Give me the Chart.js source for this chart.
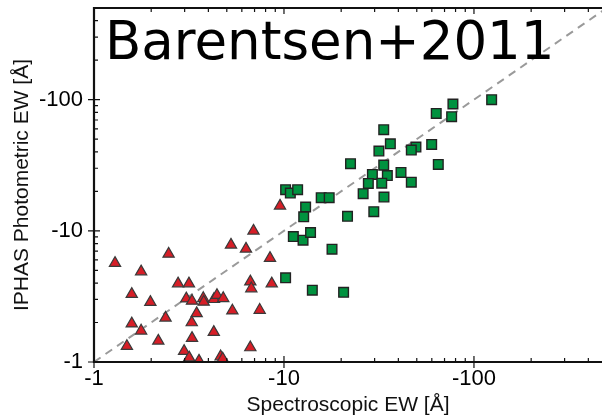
<!DOCTYPE html>
<html>
<head>
<meta charset="utf-8">
<script src="https://cdn.jsdelivr.net/npm/chart.js@4/dist/chart.umd.min.js"></script>
<style>
  html, body { margin: 0; padding: 0; background: #fff; }
  #wrap { width: 602px; height: 420px; }
</style>
</head>
<body>
<div id="wrap"><canvas id="chart-ew"></canvas></div>
<script>
// Spectroscopic EW vs IPHAS photometric EW (magnitudes, plotted on log axes)
const triangleX = [6.91, 5.26, 6.31, 2.47, 1.29, 8.44, 1.77, 2.77, 3.16, 6.65,
  6.73, 8.62, 1.58, 1.98, 3.06, 3.28, 3.76, 3.78, 4.28, 4.44,
  4.79, 5.35, 7.45, 3.47, 2.38, 3.27, 1.58, 1.77, 4.27, 2.18,
  3.28, 1.49, 6.65, 2.98, 3.17, 3.57, 4.64, 4.76, 9.53];
const triangleY = [10.0, 7.82, 7.29, 6.67, 5.67, 6.19, 4.89, 3.96, 3.96, 4.10,
  3.63, 3.96, 3.29, 2.86, 3.04, 2.92, 3.06, 2.87, 3.01, 3.23,
  3.06, 2.46, 2.49, 2.35, 2.17, 2.00, 1.96, 1.73, 1.69, 1.45,
  1.52, 1.32, 1.29, 1.21, 1.08, 1.02, 1.10, 1.06, 15.5];

const squareX = [123.9, 77.5, 63.3, 76.3, 33.5, 36.3, 59.9, 49.5, 46.8, 31.6,
  22.4, 33.5, 64.9, 41.3, 29.2, 35.0, 27.8, 32.7, 46.8, 10.2,
  10.8, 11.8, 15.7, 17.3, 26.1, 33.6, 13.0, 12.7, 21.6, 29.7,
  11.2, 12.6, 13.8, 17.9, 10.2, 14.1, 20.6];
const squareY = [100, 92.7, 78.6, 74.2, 59.0, 46.1, 45.6, 43.5, 41.3, 40.6,
  32.5, 31.7, 32.1, 27.9, 26.9, 26.4, 23.0, 23.1, 23.5, 20.6,
  19.4, 20.6, 17.9, 17.9, 19.2, 18.1, 15.2, 12.8, 12.9, 14.0,
  9.05, 8.49, 9.71, 7.25, 4.38, 3.53, 3.40];

// one-to-one line
const oneToOne = [1, 500];

const xRange = [1, 472];
const yRange = [1, 500];
const majorTicks = [1, 10, 100];

function toPoints(xs, ys) {
  return xs.map((x, i) => ({ x: x, y: ys[i] }));
}

const tickFont = { family: "Liberation Sans", size: 22 };
const titleFont = { family: "Liberation Sans", size: 21 };

function tickLabel(value) {
  return majorTicks.includes(value) ? "-" + value : "";
}

// the axes are sized by hand, so drop the label overhang padding
function noOverhang(scale) {
  scale.paddingTop = 0;
  scale.paddingBottom = 0;
  scale.paddingLeft = 0;
  scale.paddingRight = 0;
}

// frame, inward tick marks and the corner label
const framePlugin = {
  id: "frame",
  afterDraw(chart) {
    const { ctx, chartArea: a, scales } = chart;
    ctx.save();
    ctx.strokeStyle = "#111";
    ctx.lineWidth = 1.2;
    ctx.beginPath();
    for (let e = 0; e < 3; e++) {
      for (let d = 1; d < 10; d++) {
        const v = d * Math.pow(10, e);
        const len = d === 1 ? 6 : 4;
        if (v <= xRange[1]) {
          const px = scales.x.getPixelForValue(v);
          ctx.moveTo(px, a.bottom + (d === 1 ? 6 : 0));
          ctx.lineTo(px, a.bottom - len);
          ctx.moveTo(px, a.top);
          ctx.lineTo(px, a.top + len);
        }
        if (v <= yRange[1]) {
          const py = scales.y.getPixelForValue(v);
          ctx.moveTo(a.left - (d === 1 ? 6 : 0), py);
          ctx.lineTo(a.left + len, py);
        }
      }
    }
    ctx.stroke();

    ctx.lineWidth = 2.2;
    ctx.beginPath();
    ctx.moveTo(a.right + 2, a.top);
    ctx.lineTo(a.left, a.top);
    ctx.lineTo(a.left, a.bottom);
    ctx.lineTo(a.right + 2, a.bottom);
    ctx.stroke();

    ctx.fillStyle = "#000";
    ctx.font = "53px 'DejaVu Sans'";
    ctx.textBaseline = "alphabetic";
    ctx.fillText("Barentsen+2011", a.left + 11, 59);
    ctx.restore();
  },
};

const config = {
  type: "scatter",
  data: {
    datasets: [
      {
        label: "triangles",
        data: toPoints(triangleX, triangleY),
        pointStyle: "triangle",
        pointRadius: 6.5,
        backgroundColor: "#d61e27",
        borderColor: "#3a3a3a",
        borderWidth: 1.2,
        order: 2,
      },
      {
        label: "squares",
        data: toPoints(squareX, squareY),
        pointStyle: "rect",
        pointRadius: 6.8,
        backgroundColor: "#00923f",
        borderColor: "#222",
        borderWidth: 1.4,
        order: 1,
      },
      {
        type: "line",
        label: "1:1",
        data: toPoints(oneToOne, oneToOne),
        borderColor: "#9a9a9a",
        borderWidth: 2,
        borderDash: [8, 6],
        pointRadius: 0,
        fill: false,
        order: 3,
      },
    ],
  },
  options: {
    responsive: true,
    maintainAspectRatio: false,
    animation: false,
    layout: {
      autoPadding: false,
      padding: { top: 8, left: 0, right: 0, bottom: 0 },
    },
    plugins: {
      legend: { display: false },
      tooltip: { enabled: false },
    },
    scales: {
      x: {
        type: "logarithmic",
        bounds: "data",
        min: xRange[0],
        max: xRange[1],
        grid: { display: false, drawTicks: false },
        border: { display: false },
        ticks: {
          autoSkip: false,
          maxRotation: 0,
          padding: 4,
          color: "#000",
          font: tickFont,
          callback: tickLabel,
        },
        title: {
          display: true,
          text: "Spectroscopic EW [Å]",
          color: "#111",
          font: titleFont,
          padding: { top: 0, bottom: 2 },
        },
        afterFit(scale) {
          scale.height = 58;
          noOverhang(scale);
        },
      },
      y: {
        type: "logarithmic",
        bounds: "data",
        min: yRange[0],
        max: yRange[1],
        grid: { display: false, drawTicks: false },
        border: { display: false },
        ticks: {
          autoSkip: false,
          padding: 11,
          color: "#000",
          font: tickFont,
          callback: tickLabel,
        },
        title: {
          display: true,
          text: "IPHAS Photometric EW [Å]",
          color: "#111",
          font: titleFont,
          padding: { top: 10, bottom: 0 },
        },
        afterFit(scale) {
          scale.width = 94;
          noOverhang(scale);
        },
      },
    },
  },
  plugins: [framePlugin],
};

const ctx = document.getElementById("chart-ew");
let chart = new Chart(ctx, config);
</script>
</body>
</html>
